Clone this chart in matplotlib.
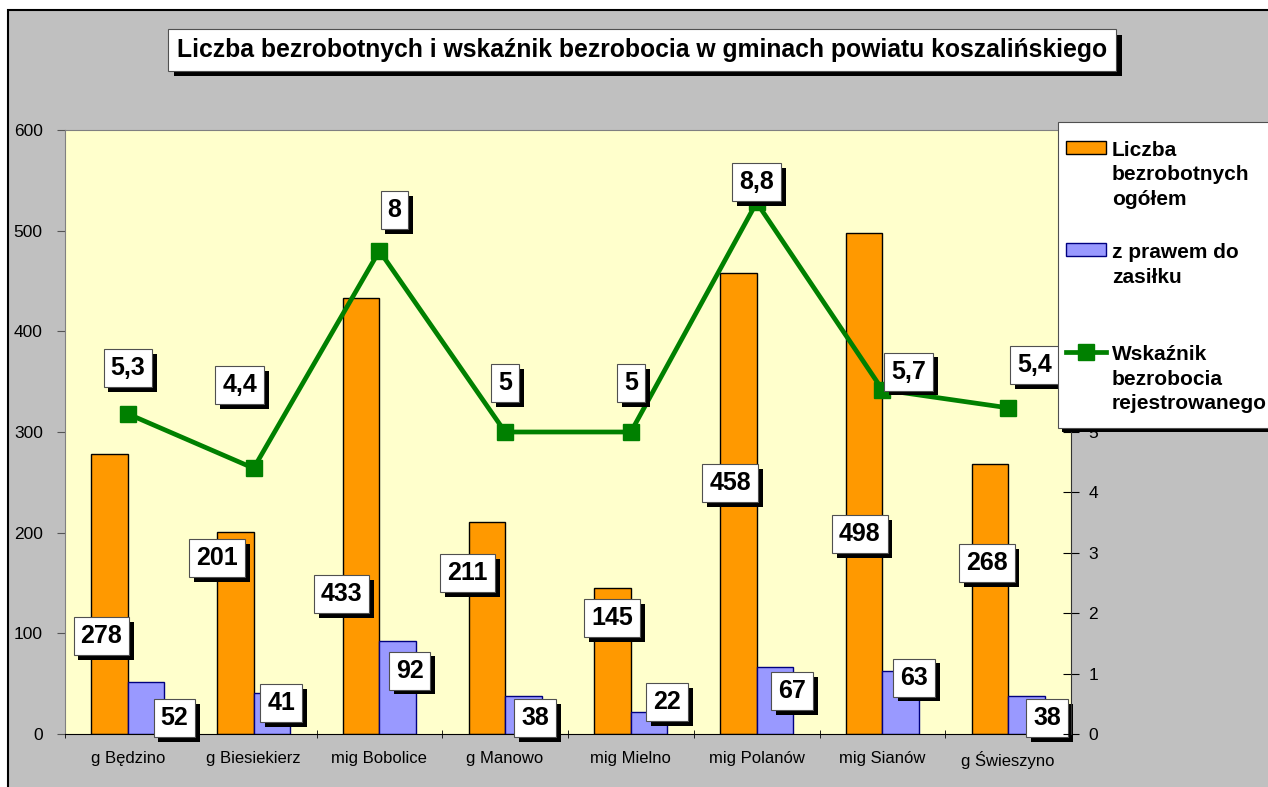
import matplotlib.pyplot as plt
import matplotlib.patheffects as pe
from matplotlib.patches import Rectangle, Patch
from matplotlib.lines import Line2D
import numpy as np

plt.rcParams['font.family'] = ['Liberation Sans', 'DejaVu Sans']

# data
gminy = ['g Będzino', 'g Biesiekierz', 'mig Bobolice', 'g Manowo',
         'mig Mielno', 'mig Polanów', 'mig Sianów', 'g Świeszyno']
ogolem = [278, 201, 433, 211, 145, 458, 498, 268]
zasilek = [52, 41, 92, 38, 22, 67, 63, 38]
wskaznik = [5.3, 4.4, 8.0, 5.0, 5.0, 8.8, 5.7, 5.4]

# where the (hand-moved) labels sit: x shift from category, y in axis units
pos_ogolem = [(-0.21, 97), (-0.29, 175), (-0.30, 139), (-0.30, 160),
              (-0.15, 115), (-0.21, 249), (-0.18, 199), (-0.17, 170)]
pos_zasilek = [(0.37, 16), (0.22, 31), (0.24, 63), (0.24, 16),
               (0.29, 32), (0.28, 43), (0.25, 56), (0.31, 16)]
pos_wsk = [(0.0, 6.06), (-0.11, 5.78), (0.12, 8.68), (0.0, 5.81),
           (0.0, 5.81), (0.0, 9.14), (0.21, 6.0), (0.21, 6.11)]

W, H = 1268, 787
fig = plt.figure(figsize=(W / 100, H / 100), dpi=100, facecolor='white')

# grey chart area with black frame
fig.patches.append(Rectangle((8 / W, -0.1), 1.2, 1.1 - 10 / H, transform=fig.transFigure,
                             facecolor='#C0C0C0', edgecolor='black', lw=1.5, zorder=-10))

ax = fig.add_axes([65 / W, 53 / H, (1071 - 65) / W, (734 - 130) / H])
ax.set_facecolor('#FFFFCC')
ax2 = ax.twinx()

x = np.arange(len(gminy))
bw = 0.29
ax.bar(x - bw / 2, ogolem, bw, color='#FF9900', edgecolor='black', lw=1, zorder=2)
ax.bar(x + bw / 2, zasilek, bw, color='#9999FF', edgecolor='#000080', lw=1, zorder=2)
ax2.plot(x, wskaznik, color='#008000', lw=3.4, marker='s', markersize=11, zorder=3)

ax.set_xlim(-0.5, len(gminy) - 0.5)
ax.set_ylim(0, 600)
ax2.set_ylim(0, 10)
ax.set_yticks(range(0, 601, 100))
ax2.set_yticks(range(0, 11))
ax.set_xticks(x)
ax.set_xticklabels(gminy, fontsize=12)
ax.set_xticks(np.arange(-0.5, len(gminy)), minor=True)
ax.tick_params(axis='x', which='major', length=0, pad=12)
ax.tick_params(axis='x', which='minor', length=6, direction='inout')
ax.tick_params(axis='y', labelsize=12.5, length=6, color='#555555', pad=10)
ax2.tick_params(axis='y', labelsize=12.5, length=11, direction='inout', pad=7)

for s in ['top', 'left']:
    ax.spines[s].set_color('#808080')
for s in ['top', 'left', 'bottom']:
    ax2.spines[s].set_visible(False)
ax2.spines['right'].set_color('#333333')
ax.spines['right'].set_visible(False)
ax.spines['bottom'].set_color('black')

shadow = [pe.SimplePatchShadow(offset=(3.5, -3.5), shadow_rgbFace='black', alpha=1), pe.Normal()]
box = dict(boxstyle='square,pad=0.28', facecolor='white', edgecolor='#505050', lw=0.8)


def label(axis, xx, yy, txt):
    t = axis.text(xx, yy, txt, ha='center', va='center', fontsize=18, fontweight='bold',
                  bbox=box, zorder=5)
    t.get_bbox_patch().set_path_effects(shadow)


for i in range(len(gminy)):
    label(ax, x[i] + pos_ogolem[i][0], pos_ogolem[i][1], str(ogolem[i]))
    label(ax, x[i] + pos_zasilek[i][0], pos_zasilek[i][1], str(zasilek[i]))
    label(ax2, x[i] + pos_wsk[i][0], pos_wsk[i][1], f'{wskaznik[i]:g}'.replace('.', ','))

# title
t = fig.text(642 / W, 1 - 50 / H,
             'Liczba bezrobotnych i wskaźnik bezrobocia w gminach powiatu koszalińskiego',
             ha='center', va='center', fontsize=17.8, fontweight='bold',
             bbox=dict(boxstyle='square,pad=0.36', facecolor='white', edgecolor='#505050', lw=0.8))
t.get_bbox_patch().set_path_effects(
    [pe.SimplePatchShadow(offset=(4, -4), shadow_rgbFace='black', alpha=1), pe.Normal()])

# legend: own frame (runs off the right edge like in the original), contents on top
frame = Rectangle((1058 / W, 1 - 428 / H), 0.3, (428 - 122) / H, transform=fig.transFigure,
                  facecolor='white', edgecolor='#505050', lw=0.8, zorder=4)
frame.set_path_effects([pe.SimplePatchShadow(offset=(3, -3), shadow_rgbFace='black', alpha=1),
                        pe.Normal()])
fig.patches.append(frame)

handles = [Patch(facecolor='#FF9900', edgecolor='black'),
           Patch(facecolor='#9999FF', edgecolor='#000080'),
           Line2D([], [], color='#008000', lw=3.4, marker='s', markersize=11)]
labels = ['Liczba\nbezrobotnych\nogółem', 'z prawem do\nzasiłku\n',
          'Wskaźnik\nbezrobocia\nrejestrowanego']
leg = fig.legend(handles, labels, loc='upper left', bbox_to_anchor=(1066 / W, 1 - 141 / H),
                 prop={'size': 15, 'weight': 'bold'}, frameon=False,
                 handlelength=1.9, handleheight=0.6,
                 handletextpad=0.3, labelspacing=1.65, borderpad=0, borderaxespad=0)
leg.set_zorder(6)
for txt in leg.get_texts():
    txt.set_linespacing(1.36)
for col in leg._legend_handle_box.get_children():
    for item in col.get_children():
        item.align = 'top'

fig.savefig('out.png', dpi=100, facecolor='white')
